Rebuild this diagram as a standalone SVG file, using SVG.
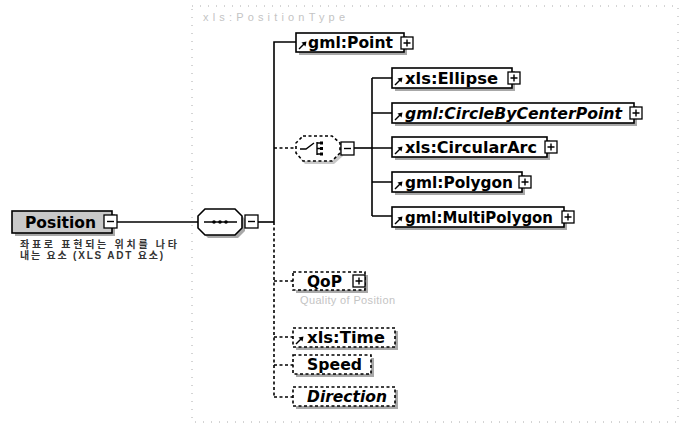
<svg xmlns="http://www.w3.org/2000/svg" width="690" height="426" viewBox="0 0 690 426">
<defs>
<style>
.bg{fill:#fff}
.frame{fill:none;stroke:#aaa;stroke-width:1;stroke-dasharray:1 7}
.box{fill:#fff;stroke:#000;stroke-width:1.6}
.dbox{fill:#fff;stroke:#000;stroke-width:1.6;stroke-dasharray:3 2.5}
.shadow{fill:#a8a8a8}
.lbl{font-family:"DejaVu Sans","Liberation Sans",sans-serif;font-weight:bold;font-size:15px;fill:#000}
.it{font-style:italic}
.conn{stroke:#000;stroke-width:1.6;fill:none}
.dconn{stroke:#000;stroke-width:1.6;fill:none;stroke-dasharray:3 2.5}
.ico{fill:#fff;stroke:#000;stroke-width:1.3}
.icol{stroke:#000;stroke-width:1.4;fill:none}
.faint{font-family:"Liberation Sans",Arial,sans-serif;font-size:11px;fill:#c4c4c4}
.note{font-family:"Liberation Sans","Noto Sans CJK KR",sans-serif;font-size:10px;font-weight:bold;fill:#333}
</style>
<g id="plus">
<rect class="ico" x="0" y="0" width="12" height="12"/>
<path class="icol" d="M2.5 6H9.5M6 2.5V9.5"/>
</g>
<g id="minus">
<rect class="ico" x="0" y="0" width="13" height="13"/>
<path class="icol" d="M3 6.5H10"/>
</g>
<g id="ref">
<path d="M0 0L6 -6" stroke="#000" stroke-width="1.5"/>
<polygon points="7.5,-7.5 2.5,-6.5 6.5,-2.5" fill="#000"/>
</g>
</defs>
<rect class="bg" x="0" y="0" width="690" height="426"/>
<rect class="frame" x="192" y="6" width="486" height="416"/>
<text class="faint" x="203" y="21" textLength="142" lengthAdjust="spacing">xls:PositionType</text>

<g id="connectors">
<path class="conn" d="M117 222H198"/>
<path class="conn" d="M258 222H274"/>
<path class="conn" d="M274 222V42H296"/>
<path class="dconn" d="M274 222V397"/>
<path class="dconn" d="M274 148H296"/>
<path class="conn" d="M354 148H372"/>
<path class="conn" d="M372 78V216"/>
<path class="conn" d="M372 78H392M372 113H392M372 148H392M372 182H392M372 216H392"/>
<path class="dconn" d="M274 281H293M274 337H293M274 365H293M274 397H293"/>
</g>

<g id="node-position">
<rect class="shadow" x="15" y="214" width="100" height="22"/>
<rect x="12" y="211" width="100" height="22" fill="#c9c9c9" stroke="#000" stroke-width="1.6"/>
<text class="lbl" x="25" y="228" font-size="16" textLength="71" lengthAdjust="spacingAndGlyphs">Position</text>
<use href="#minus" x="104" y="215"/>
<text class="note" x="20" y="248" textLength="157" lengthAdjust="spacing">좌표로 표현되는 위치를 나타</text>
<text class="note" x="20" y="259" textLength="143" lengthAdjust="spacing">내는 요소 (XLS ADT 요소)</text>
</g>

<g id="node-sequence">
<polygon points="208,212 238,212 245,219 245,231 238,238 208,238 201,231 201,219" class="shadow"/>
<polygon points="205,209 235,209 242,216 242,228 235,235 205,235 198,228 198,216" class="box"/>
<path class="icol" d="M204 222H237"/>
<circle cx="214" cy="222" r="1.8"/><circle cx="220" cy="222" r="1.8"/><circle cx="226" cy="222" r="1.8"/>
<use href="#minus" x="245" y="215"/>
</g>

<g id="node-choice">
<polygon points="305,139 334,139 343,146 343,156 334,164 305,164 298,156 298,146" fill="#c8c8c8"/>
<polygon points="303,136 332,136 340,143 340,153 332,161 303,161 296,153 296,143" class="dbox"/>
<path class="icol" d="M300 149H306L314 143M317 142V155M317 143H323M317 148.5H323M317 154H323"/>
<rect x="320" y="141.5" width="3" height="3"/><rect x="320" y="147" width="3" height="3"/><rect x="320" y="152.5" width="3" height="3"/>
<use href="#minus" x="341" y="142"/>
</g>

<g id="node-gml-point">
<rect class="shadow" x="299" y="36" width="108" height="19"/>
<rect class="box" x="296" y="33" width="108" height="19"/>
<use href="#ref" x="299" y="49"/>
<text class="lbl" x="308" y="48" textLength="85" lengthAdjust="spacingAndGlyphs">gml:Point</text>
<use href="#plus" x="401" y="37"/>
</g>

<g id="node-xls-ellipse">
<rect class="shadow" x="395" y="71" width="120" height="20"/>
<rect class="box" x="392" y="68" width="120" height="20"/>
<use href="#ref" x="395" y="85"/>
<text class="lbl" x="405" y="84" textLength="93" lengthAdjust="spacingAndGlyphs">xls:Ellipse</text>
<use href="#plus" x="508" y="72"/>
</g>

<g id="node-gml-circlebycenterpoint">
<rect class="shadow" x="395" y="106" width="242" height="20"/>
<rect class="box" x="392" y="103" width="242" height="20"/>
<use href="#ref" x="395" y="120"/>
<text class="lbl it" x="405" y="119" textLength="217" lengthAdjust="spacingAndGlyphs">gml:CircleByCenterPoint</text>
<use href="#plus" x="630" y="107"/>
</g>

<g id="node-xls-circulararc">
<rect class="shadow" x="395" y="140" width="155" height="20"/>
<rect class="box" x="392" y="137" width="155" height="20"/>
<use href="#ref" x="395" y="154"/>
<text class="lbl" x="405" y="153" textLength="132" lengthAdjust="spacingAndGlyphs">xls:CircularArc</text>
<use href="#plus" x="545" y="141"/>
</g>

<g id="node-gml-polygon">
<rect class="shadow" x="395" y="175" width="130" height="20"/>
<rect class="box" x="392" y="172" width="130" height="20"/>
<use href="#ref" x="395" y="189"/>
<text class="lbl" x="405" y="188" textLength="108" lengthAdjust="spacingAndGlyphs">gml:Polygon</text>
<use href="#plus" x="519" y="176"/>
</g>

<g id="node-gml-multipolygon">
<rect class="shadow" x="395" y="210" width="172" height="20"/>
<rect class="box" x="392" y="207" width="172" height="20"/>
<use href="#ref" x="395" y="224"/>
<text class="lbl" x="405" y="223" textLength="148" lengthAdjust="spacingAndGlyphs">gml:MultiPolygon</text>
<use href="#plus" x="562" y="211"/>
</g>

<g id="node-qop">
<rect class="shadow" x="296" y="275" width="72" height="18"/>
<rect class="dbox" x="293" y="272" width="72" height="18"/>
<text class="lbl" x="307" y="287" textLength="35" lengthAdjust="spacingAndGlyphs">QoP</text>
<use href="#plus" x="353" y="275"/>
<text class="faint" x="300" y="304" fill="#ccc" textLength="95" lengthAdjust="spacing">Quality of Position</text>
</g>

<g id="node-xls-time">
<rect class="shadow" x="296" y="331" width="102" height="19"/>
<rect class="dbox" x="293" y="328" width="102" height="19"/>
<use href="#ref" x="296" y="344"/>
<text class="lbl" x="307" y="343" textLength="78" lengthAdjust="spacingAndGlyphs">xls:Time</text>
</g>

<g id="node-speed">
<rect class="shadow" x="296" y="358" width="78" height="19"/>
<rect class="dbox" x="293" y="355" width="78" height="19"/>
<text class="lbl" x="307" y="370" textLength="55" lengthAdjust="spacingAndGlyphs">Speed</text>
</g>

<g id="node-direction">
<rect class="shadow" x="296" y="390" width="102" height="19"/>
<rect class="dbox" x="293" y="387" width="102" height="19"/>
<text class="lbl it" x="307" y="402" textLength="80" lengthAdjust="spacingAndGlyphs">Direction</text>
</g>
</svg>
